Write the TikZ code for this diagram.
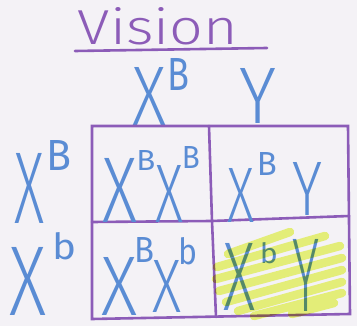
\documentclass[tikz,border=0pt]{standalone}
\usepackage{fontspec}
\usepackage{graphicx}
\newfontfamily\handL{Fira Sans Light}
\newfontfamily\handM{Fira Sans}
\definecolor{pen}{RGB}{90,140,212}
\definecolor{ink}{RGB}{140,92,184}
\definecolor{paper}{RGB}{244,242,246}
\definecolor{hilite}{RGB}{238,250,125}
% font, width, height, text
\newcommand\hgl[4]{\resizebox{#2pt}{#3pt}{#1#4}}
\begin{document}
\begin{tikzpicture}[x=1pt,y=-1pt,
  lt/.style={inner sep=0pt, outer sep=0pt, text=pen},
  gridline/.style={draw=ink, line width=2.6pt, line cap=round},
  hl/.style={draw=hilite, line width=8.5pt, line cap=round}]
\fill[paper] (0,0) rectangle (357,326);
\useasboundingbox (0,0) rectangle (357,326);

% title
\node[lt, text=ink] (title) at (158,26.5) {\hgl{\handL}{160}{37}{Vision}};
\coordinate (ulA) at (75,51);
\coordinate (ulB) at (267,48);
\draw[gridline] (ulA) -- (ulB);

% header gametes
\node[lt] (hX) at (150,96) {\hgl{\handL}{34}{58}{X}};
\node[lt] (hB) at (179,74) {\hgl{\handM}{22}{32}{B}};
\node[lt] (hY) at (258.5,95.5) {\hgl{\handL}{37}{55}{Y}};

% left gametes
\node[lt] (lX1) at (30,188) {\hgl{\handL}{30}{70}{X}};
\node[lt] (lB1) at (59.5,155) {\hgl{\handM}{25}{30}{B}};
\node[lt] (lX2) at (28.5,281) {\hgl{\handL}{37}{68}{X}};
\node[lt] (lb2) at (65,246.5) {\hgl{\handM}{24}{27}{b}};

% grid
\coordinate (g1) at (92,126);
\coordinate (g2) at (209,126);
\coordinate (g3) at (348,126);
\coordinate (g4) at (92,222);
\coordinate (g5) at (212,221);
\coordinate (g6) at (349,216);
\coordinate (g7) at (92,319);
\coordinate (g8) at (216,317);
\coordinate (g9) at (350,314);
\draw[gridline] (g1) -- (g3) -- (g9) -- (g7) -- cycle;
\draw[gridline] (g2) -- (g5) -- (g8);
\draw[gridline] (g4) -- (g5) -- (g6);

% cell top-left: X^B X^B
\node[lt] (c1X1) at (120.5,190) {\hgl{\handL}{35}{64}{X}};
\node[lt] (c1B1) at (146,160) {\hgl{\handM}{19}{20}{B}};
\node[lt] (c1X2) at (170,193.5) {\hgl{\handL}{28}{57}{X}};
\node[lt] (c1B2) at (191,157) {\hgl{\handM}{18}{22}{B}};

% cell top-right: X^B Y
\node[lt] (c2X) at (241.5,195) {\hgl{\handL}{27}{54}{X}};
\node[lt] (c2B) at (267,163.5) {\hgl{\handM}{20}{23}{B}};
\node[lt] (c2Y) at (308,188.5) {\hgl{\handL}{30}{53}{Y}};

% cell bottom-left: X^B X^b
\node[lt] (c3X1) at (119.5,286) {\hgl{\handL}{36}{58}{X}};
\node[lt] (c3B) at (145,250) {\hgl{\handM}{20}{25}{B}};
\node[lt] (c3X2) at (167.5,286) {\hgl{\handL}{29}{52}{X}};
\node[lt] (c3b) at (188,251) {\hgl{\handM}{19}{27}{b}};

% cell bottom-right: X^b Y
\node[lt] (c4X) at (240,276.5) {\hgl{\handL}{32}{67}{X}};
\node[lt] (c4b) at (269,253) {\hgl{\handM}{18}{21}{b}};
\node[lt] (c4Y) at (306.5,275) {\hgl{\handL}{27}{72}{Y}};

% highlighter (one path, so overlapping strokes do not darken)
\coordinate (h1a) at (228,254); \coordinate (h1b) at (290,232);
\coordinate (h2a) at (217,267); \coordinate (h2b) at (325,236);
\coordinate (h3a) at (216,279); \coordinate (h3b) at (340,246);
\coordinate (h4a) at (219,291); \coordinate (h4b) at (342,258);
\coordinate (h5a) at (226,302); \coordinate (h5b) at (342,270);
\coordinate (h6a) at (238,311); \coordinate (h6b) at (342,282);
\coordinate (h7a) at (254,316); \coordinate (h7b) at (342,293);
\coordinate (h8a) at (292,314); \coordinate (h8b) at (334,303);
\begin{scope}[blend mode=multiply]
\draw[hl] (h1a) -- (h1b) (h2a) -- (h2b) (h3a) -- (h3b) (h4a) -- (h4b)
          (h5a) -- (h5b) (h6a) -- (h6b) (h7a) -- (h7b) (h8a) -- (h8b);
\end{scope}
\end{tikzpicture}
\end{document}
